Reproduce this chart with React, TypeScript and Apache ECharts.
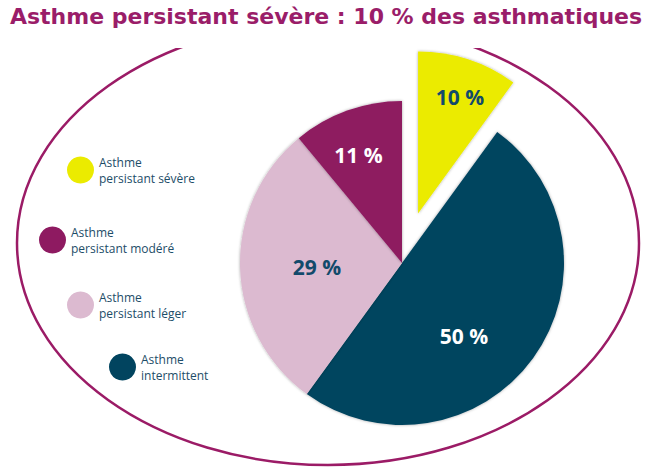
import React, { useEffect, useRef } from "react";
import * as echarts from "echarts";

const titleText = "Asthme persistant sévère : 10 % des asthmatiques";
const categories = [
  "Asthme persistant sévère",
  "Asthme intermittent",
  "Asthme persistant léger",
  "Asthme persistant modéré",
];
const values = [10, 50, 29, 11];
const sliceColors = ["#ebeb00", "#01445f", "#dcbad0", "#8e1a61"];
const labelColors = ["#124a6b", "#ffffff", "#124a6b", "#ffffff"];
// label nudges from the default inside position
const labelDx = [16, -6, -1, -15];
const labelDy = [-37, 24, 1, -29];
// legend placement (one legend box per category)
const legendLeft = [67, 109, 67, 39];
const legendTop = [154, 351, 289, 224];

export default function App() {
  const ref = useRef<HTMLDivElement>(null);
  useEffect(() => {
    const chart = echarts.init(ref.current!, null, { renderer: "svg" });
    const option: any = {
      animation: false,
      backgroundColor: "#ffffff",
      title: {
        text: titleText,
        left: 326,
        textAlign: "center",
        top: 5,
        padding: 0,
        textStyle: {
          color: "#9a1d69",
          fontFamily: "DejaVu Sans",
          fontWeight: "bold",
          fontSize: 22,
        },
      },
      graphic: [
        {
          type: "ellipse",
          z: 0,
          shape: { cx: 328, cy: 243, rx: 311, ry: 222 },
          style: { fill: "none", stroke: "#9b1b66", lineWidth: 2.5 },
        },
        {
          type: "rect",
          z: 1,
          shape: { x: 170, y: 0, width: 317, height: 48 },
          style: { fill: "#ffffff" },
        },
      ],
      legend: categories.map((name, i) => ({
        data: [name],
        left: legendLeft[i],
        top: legendTop[i],
        padding: 0,
        icon: "circle",
        itemWidth: 27,
        itemHeight: 27,
        selectedMode: false,
        formatter: (n: string) => n.replace(" ", "\n"),
        textStyle: {
          color: "#1d4d68",
          fontFamily: "Open Sans",
          fontSize: 12,
          lineHeight: 16,
        },
      })),
      series: [
        {
          type: "pie",
          z: 2,
          center: [402, 263],
          radius: [0, 162],
          startAngle: 90,
          clockwise: true,
          selectedMode: "single",
          selectedOffset: 52,
          emphasis: { disabled: true },
          itemStyle: {
            borderWidth: 0,
            shadowBlur: 3,
            shadowColor: "rgba(0,0,0,0.35)",
          },
          label: {
            show: true,
            position: "inside",
            formatter: "{c} %",
            fontFamily: "Open Sans",
            fontWeight: "bold",
            fontSize: 21,
          },
          labelLayout: (p: any) => ({
            dx: labelDx[p.dataIndex],
            dy: labelDy[p.dataIndex],
          }),
          labelLine: { show: false },
          data: categories.map((name, i) => ({
            name,
            value: values[i],
            selected: i === 0,
            itemStyle: { color: sliceColors[i] },
            select: { itemStyle: { color: sliceColors[i] } },
            label: { color: labelColors[i] },
          })),
        },
      ],
    };
    chart.setOption(option);
    return () => chart.dispose();
  }, []);
  return (
    <div
      ref={ref}
      style={{ position: "absolute", left: 0, top: 0, width: 648, height: 468 }}
    />
  );
}
